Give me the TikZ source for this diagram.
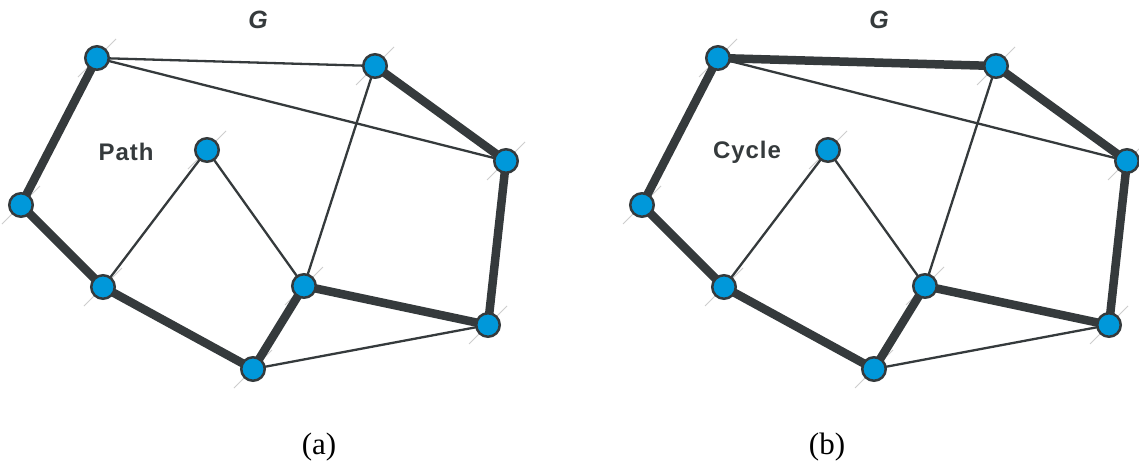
\documentclass[tikz,border=0pt]{standalone}
\usepackage{fontspec}
\setmainfont{Liberation Serif}
\newfontfamily\lblfont[LetterSpace=4]{Liberation Sans}
\usetikzlibrary{positioning, backgrounds}
\definecolor{vblue}{RGB}{0,152,218}
\definecolor{edgegray}{RGB}{53,58,60}
\definecolor{tickgray}{RGB}{205,205,205}
\tikzset{
  vtx/.style={circle, draw=edgegray, fill=vblue, line width=2.5pt, minimum size=23.5pt, inner sep=0pt},
  lightedge/.style={draw=edgegray, line width=2.3pt},
  heavyedge/.style={draw=edgegray, line width=8.5pt},
  tickline/.style={draw=tickgray, line width=0.8pt},
  lbl/.style={text=edgegray, font=\lblfont\bfseries\fontsize{24}{28}\selectfont},
}

\begin{document}
\begin{tikzpicture}[x=1pt, y=-1pt]
\useasboundingbox (0,0) rectangle (1139,466);
% two copies of G: path (a) and cycle (b)
\foreach \p/\dx/\name/\top in {a/0/Path/lightedge, b/621/Cycle/heavyedge}{
\begin{scope}[xshift=\dx pt]
\node[vtx] (\p1) at (97,58) {};
\node[vtx] (\p2) at (375,66) {};
\node[vtx] (\p3) at (506,161) {};
\node[vtx] (\p4) at (207,150) {};
\node[vtx] (\p5) at (21,205) {};
\node[vtx] (\p6) at (103,287) {};
\node[vtx] (\p7) at (304,286) {};
\node[vtx] (\p8) at (488,325) {};
\node[vtx] (\p9) at (253,369) {};
\node[lbl, font=\lblfont\bfseries\itshape\fontsize{25}{28}\selectfont] (\p G) at (258,20) {G};
\node[lbl] (\p lab) at (126,152) {\name};
\begin{scope}[on background layer]
\foreach \v in {1,...,9}
  \draw[tickline] (\p\v.center) ++(-19,19) -- ++(38,-38);
% thin edges
\draw[lightedge] (\p1.center) -- (\p3.center);
\draw[lightedge] (\p4.center) -- (\p6.center);
\draw[lightedge] (\p4.center) -- (\p7.center);
\draw[lightedge] (\p2.center) -- (\p7.center);
\draw[lightedge] (\p9.center) -- (\p8.center);
% highlighted edges
\draw[\top] (\p1.center) -- (\p2.center);
\draw[heavyedge] (\p2.center) -- (\p3.center) -- (\p8.center) -- (\p7.center)
  -- (\p9.center) -- (\p6.center) -- (\p5.center) -- (\p1.center);
\end{scope}
\end{scope}
}
\node[font=\fontsize{31}{36}\selectfont] (capa) at (319,447) {(a)};
\node[font=\fontsize{31}{36}\selectfont] (capb) at (827,447) {(b)};
\end{tikzpicture}
\end{document}
